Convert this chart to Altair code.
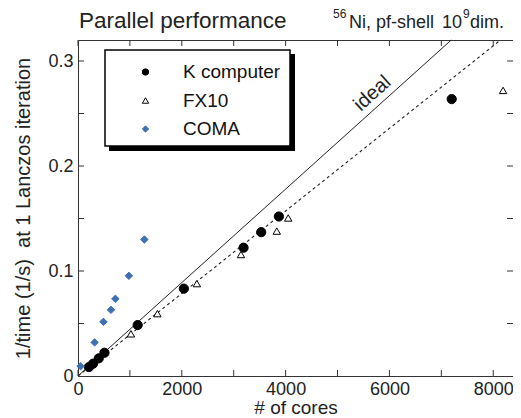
import altair as alt
import pandas as pd

FONT = "Liberation Sans"
INK = "#222222"
BLUE = "#3f6fb3"

# ---- data ----
series_names = ["K computer", "FX10", "COMA"]

k_cores = [210, 290, 400, 510, 1150, 2040, 3190, 3530, 3870, 7200]
k_rate = [0.0085, 0.0117, 0.0168, 0.0221, 0.0485, 0.0832, 0.1222, 0.1370, 0.1519, 0.2637]

fx10_cores = [1020, 1530, 2290, 3140, 3830, 4050, 8190]
fx10_rate = [0.0402, 0.0594, 0.0880, 0.1157, 0.1380, 0.1505, 0.2720]

coma_cores = [50, 320, 490, 635, 720, 980, 1280]
coma_rate = [0.0093, 0.0320, 0.0516, 0.0630, 0.0735, 0.0954, 0.1300]

ideal_cores = [0, 7191]
ideal_rate = [0, 0.32]
fx10_fit_cores = [0, 8142]
fx10_fit_rate = [0, 0.32]

ideal_label_cores = [5840]
ideal_label_rate = [0.2599]
ideal_label_text = ["ideal"]

x_tick_values = [0, 1000, 2000, 3000, 4000, 5000, 6000, 7000, 8000]
x_label_values = [0, 2000, 4000, 6000, 8000]
y_tick_values = [0.05, 0.1, 0.15, 0.2, 0.25, 0.3]
y_label_values = [0, 0.1, 0.2, 0.3]

title_text = ["Parallel performance"]
note_parts = ["56", "Ni, pf-shell", "10", "9", "dim."]
x_title = "# of cores"
y_title = "1/time (1/s)\u00a0 at 1 Lanczos iteration"

X_DOMAIN = [0, 8381]
Y_DOMAIN = [0, 0.32]
W, H = 435, 336

# ---- shared encodings ----
xs = alt.Scale(domain=X_DOMAIN, nice=False, zero=False)
ys = alt.Scale(domain=Y_DOMAIN, nice=False, zero=False)

x_axis = alt.Axis(values=x_label_values, format="d", title=x_title,
                  labelPadding=4, titlePadding=0, titleFontSize=19,
                  labelFlush=False, labelOverlap=False)
y_axis = alt.Axis(values=y_label_values, format="~g", title=y_title,
                  labelPadding=5, titlePadding=14, titleFontSize=20,
                  labelFlush=False, labelOverlap=False)

X = alt.X("cores:Q", scale=xs, axis=x_axis)
Y = alt.Y("rate:Q", scale=ys, axis=y_axis)

shape_enc = alt.Shape("series:N", scale=alt.Scale(domain=series_names,
                      range=["circle", "triangle-up", "diamond"]), legend=alt.Legend(title=None))
fill_enc = alt.Fill("series:N", scale=alt.Scale(domain=series_names,
                    range=["#000000", "#ffffff", BLUE]), legend=alt.Legend(title=None))
stroke_enc = alt.Stroke("series:N", scale=alt.Scale(domain=series_names,
                        range=["#000000", "#000000", BLUE]), legend=alt.Legend(title=None))


def series_layer(cores, rate, name, size):
    df = pd.DataFrame({"cores": cores, "rate": rate, "series": name})
    return alt.Chart(df).mark_point(filled=True, opacity=1, strokeWidth=1, size=size).encode(
        x=X, y=Y, shape=shape_enc, fill=fill_enc, stroke=stroke_enc)


k_layer = series_layer(k_cores, k_rate, series_names[0], 85)
fx_layer = series_layer(fx10_cores, fx10_rate, series_names[1], 55)
coma_layer = series_layer(coma_cores, coma_rate, series_names[2], 55)

ideal_df = pd.DataFrame({"cores": ideal_cores, "rate": ideal_rate})
fit_df = pd.DataFrame({"cores": fx10_fit_cores, "rate": fx10_fit_rate})

ideal_line = alt.Chart(ideal_df).mark_line(color=INK, strokeWidth=1).encode(x=X, y=Y)
fit_line = alt.Chart(fit_df).mark_line(color=INK, strokeWidth=1.1, strokeDash=[3, 3]).encode(x=X, y=Y)

lab_df = pd.DataFrame({"cores": ideal_label_cores, "rate": ideal_label_rate, "t": ideal_label_text})
ideal_label = alt.Chart(lab_df).mark_text(
    font=FONT, fontSize=20, color=INK, angle=318, align="center", baseline="bottom", dy=-3
).encode(x=X, y=Y, text="t:N")

# inward ticks on all four sides
xt = pd.DataFrame({"cores": x_tick_values})
yt = pd.DataFrame({"rate": y_tick_values})
tick_style = dict(color="#333333", strokeWidth=1)
ticks_bottom = alt.Chart(xt).mark_rule(**tick_style).encode(x=X, y=alt.value(H), y2=alt.value(H - 6))
ticks_top = alt.Chart(xt).mark_rule(**tick_style).encode(x=X, y=alt.value(0), y2=alt.value(6))
ticks_left = alt.Chart(yt).mark_rule(**tick_style).encode(y=Y, x=alt.value(0), x2=alt.value(6))
ticks_right = alt.Chart(yt).mark_rule(**tick_style).encode(y=Y, x=alt.value(W), x2=alt.value(W - 6))

# legend frame with drop shadow
one = pd.DataFrame({"k": [0]})
shadow = alt.Chart(one).mark_rect(color="#000000").encode(
    x=alt.value(31), x2=alt.value(217), y=alt.value(14), y2=alt.value(111))
frame = alt.Chart(one).mark_rect(fill="#ffffff", stroke="#000000", strokeWidth=1.5).encode(
    x=alt.value(27), x2=alt.value(212), y=alt.value(10), y2=alt.value(106))


# header texts
def txt(s, x, y, size):
    return alt.Chart(pd.DataFrame({"t": [s]})).mark_text(
        font=FONT, fontSize=size, color=INK, align="left", baseline="alphabetic"
    ).encode(x=alt.value(x), y=alt.value(y), text="t:N")


title = txt(title_text[0], 1, -12, 22.5)
n1 = txt(note_parts[0], 255, -22, 12)
n2 = txt(note_parts[1], 271, -12, 18)
n3 = txt(note_parts[2], 364, -12, 18)
n4 = txt(note_parts[3], 385, -22, 12)
n5 = txt(note_parts[4], 392, -12, 18)

chart = alt.layer(
    ticks_bottom, ticks_top, ticks_left, ticks_right, shadow, frame, ideal_line, fit_line,
    k_layer, fx_layer, coma_layer, ideal_label, title, n1, n2, n3, n4, n5
).properties(
    width=W, height=H,
    autosize=alt.AutoSizeParams(type="none"),
    padding={"left": 70, "top": 32, "right": 0, "bottom": 42},
).configure_view(
    stroke="#333333", strokeWidth=1
).configure_axis(
    tickSize=0, grid=False, domainColor="#333333", domainWidth=1,
    labelFont=FONT, labelFontSize=18, labelColor=INK,
    titleFont=FONT, titleColor=INK, titleFontWeight="normal",
).configure_legend(
    orient="none", legendX=58, legendY=22.5, padding=0,
    cornerRadius=0,
    labelFont=FONT, labelFontSize=19, labelColor="#111111",
    rowPadding=8.5, symbolOffset=0, labelOffset=28, symbolSize=40, symbolStrokeWidth=1,
)

chart.save("out.html", embed_options={"renderer": "svg", "actions": False})
